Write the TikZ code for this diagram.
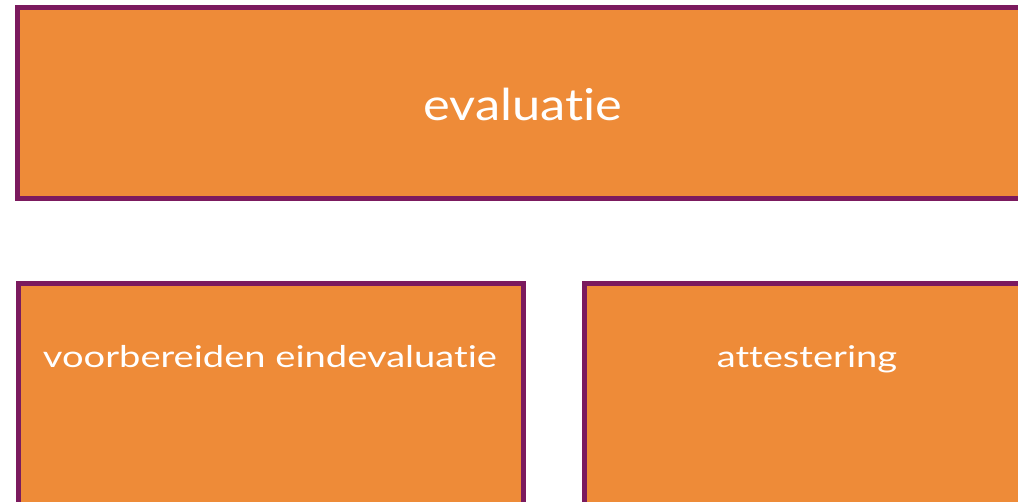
\documentclass[tikz,border=0pt]{standalone}
\usepackage{fontspec}
\setmainfont{Lato}[Ligatures=NoCommon]
\definecolor{boxorange}{HTML}{EE8B38}
\definecolor{boxpurple}{HTML}{7B1A5E}
\tikzset{
  box/.style={draw=boxpurple, fill=boxorange, line width=5pt},
  lbl/.style={text=white, anchor=base, inner sep=0pt},
}
\begin{document}
\begin{tikzpicture}[x=1pt,y=-1pt]
\useasboundingbox (0,0) rectangle (1018,501);
\begin{scope}
\clip (0,0) rectangle (1018,501);
\draw[box] (17.5,7.5) rectangle (1040,198.5);
\draw[box] (18.5,283.5) rectangle (523.5,520);
\draw[box] (584.5,283.5) rectangle (1040,520);
\end{scope}
\node[lbl, font=\fontsize{44}{50}\selectfont] (top) at (523,120) {\scalebox{1.15}[1]{evaluatie}};
\node[lbl, font=\fontsize{30}{36}\selectfont] (left) at (270,367) {\scalebox{1.27}[1]{voorbereiden eindevaluatie}};
\node[lbl, font=\fontsize{30}{36}\selectfont] (right) at (807,367) {\scalebox{1.27}[1]{attestering}};
\end{tikzpicture}
\end{document}
